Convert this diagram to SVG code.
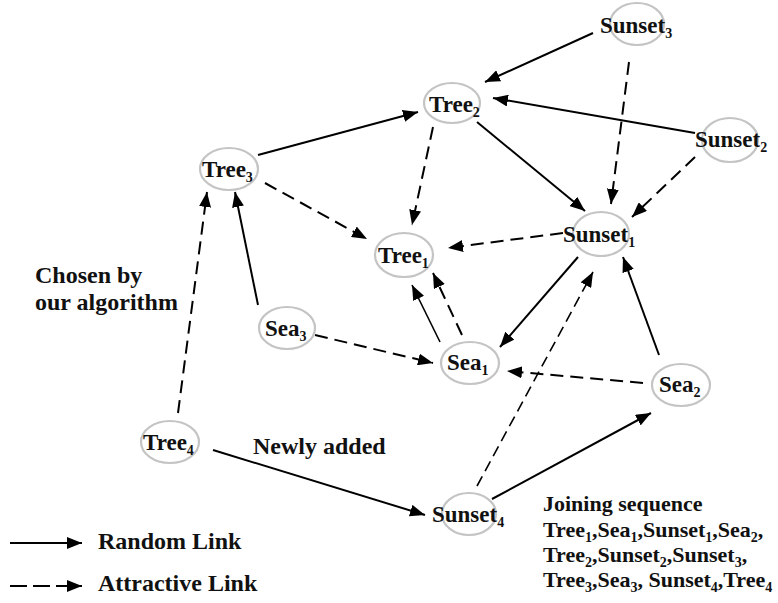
<svg xmlns="http://www.w3.org/2000/svg" width="778" height="603" viewBox="0 0 778 603">
<style>
.bg{fill:#ffffff}
.node ellipse{fill:none;stroke:#c4c4c4;stroke-width:2.2}
text{font-family:"Liberation Serif","Times New Roman",serif;font-weight:bold;fill:#111}
.lbl{font-size:23px}
.ann{font-size:24px}
.seq{font-size:22px}
.sub{font-size:14px}
.solid{stroke:#000;stroke-width:2;fill:none;marker-end:url(#ah)}
.dash{stroke:#000;stroke-width:2;fill:none;stroke-dasharray:13 7;marker-end:url(#ah)}
.dashthin{stroke:#000;stroke-width:1.6;fill:none;stroke-dasharray:11 6;marker-end:url(#ah)}
</style>
<defs>
<marker id="ah" viewBox="0 0 15 12" refX="15" refY="6" markerWidth="15" markerHeight="12" markerUnits="userSpaceOnUse" orient="auto">
<path d="M0,0 L15,6 L0,12 z" fill="#000" stroke="none"/>
</marker>
</defs>
<rect class="bg" x="0" y="0" width="778" height="603"/>

<g id="connectors">
<line class="solid" x1="593" y1="33" x2="485" y2="82"/>
<line class="dash" x1="629" y1="62" x2="611" y2="204"/>
<line class="solid" x1="695" y1="133" x2="493" y2="98"/>
<line class="dash" x1="695" y1="157" x2="632" y2="217"/>
<line class="solid" x1="477" y1="122" x2="585" y2="211"/>
<line class="dash" x1="433" y1="127" x2="412" y2="225"/>
<line class="solid" x1="258" y1="155" x2="418" y2="112"/>
<line class="dash" x1="265" y1="183" x2="367" y2="239"/>
<line class="dash" x1="563" y1="233" x2="448" y2="248"/>
<line class="solid" x1="578" y1="257" x2="500" y2="347"/>
<line class="solid" x1="659" y1="355" x2="623" y2="257"/>
<line class="dash" x1="643" y1="383" x2="507" y2="371"/>
<line class="dashthin" x1="477" y1="486" x2="593" y2="272"/>
<line class="solid" style="stroke-width:1.6" x1="440" y1="342" x2="412" y2="285"/>
<line class="dash" x1="462" y1="335" x2="433" y2="273"/>
<line class="dash" x1="315" y1="335" x2="433" y2="363"/>
<line class="solid" x1="258" y1="305" x2="235" y2="192"/>
<line class="dash" x1="178" y1="413" x2="207" y2="192"/>
<line class="solid" x1="213" y1="450" x2="425" y2="515"/>
<line class="solid" x1="492" y1="499" x2="651" y2="413"/>
</g>

<g id="Sunset3" class="node"><ellipse cx="637" cy="24" rx="27" ry="21"/><text class="lbl" x="600" y="33">Sunset<tspan class="sub" dy="5">3</tspan></text></g>
<g id="Tree2" class="node"><ellipse cx="452" cy="103" rx="28" ry="20"/><text class="lbl" x="429" y="112">Tree<tspan class="sub" dy="5">2</tspan></text></g>
<g id="Sunset2" class="node"><ellipse cx="730" cy="140" rx="28" ry="22"/><text class="lbl" x="695" y="147">Sunset<tspan class="sub" dy="5">2</tspan></text></g>
<g id="Tree3" class="node"><ellipse cx="229" cy="169" rx="29" ry="21"/><text class="lbl" x="202" y="177">Tree<tspan class="sub" dy="5">3</tspan></text></g>
<g id="Tree1" class="node"><ellipse cx="404" cy="255" rx="29" ry="22"/><text class="lbl" x="378" y="263">Tree<tspan class="sub" dy="5">1</tspan></text></g>
<g id="Sunset1" class="node"><ellipse cx="601" cy="234" rx="28" ry="22"/><text class="lbl" x="563" y="242">Sunset<tspan class="sub" dy="5">1</tspan></text></g>
<g id="Sea1" class="node"><ellipse cx="470" cy="363" rx="29" ry="21"/><text class="lbl" x="447" y="370">Sea<tspan class="sub" dy="5">1</tspan></text></g>
<g id="Sea2" class="node"><ellipse cx="681" cy="385" rx="29" ry="21"/><text class="lbl" x="659" y="392">Sea<tspan class="sub" dy="5">2</tspan></text></g>
<g id="Sea3" class="node"><ellipse cx="287" cy="328" rx="28" ry="21"/><text class="lbl" x="265" y="336">Sea<tspan class="sub" dy="5">3</tspan></text></g>
<g id="Tree4" class="node"><ellipse cx="170" cy="442" rx="29" ry="21"/><text class="lbl" x="143" y="450">Tree<tspan class="sub" dy="5">4</tspan></text></g>
<g id="Sunset4" class="node"><ellipse cx="469" cy="514" rx="27" ry="21"/><text class="lbl" x="432" y="522">Sunset<tspan class="sub" dy="5">4</tspan></text></g>

<g id="annotations">
<text class="ann" x="35" y="283">Chosen by</text>
<text class="ann" x="35" y="310">our algorithm</text>
<text class="ann" x="253" y="454">Newly added</text>
<text class="seq" x="543" y="511">Joining sequence</text>
<text class="seq" x="543" y="537">Tree<tspan class="sub" dy="5">1</tspan><tspan dy="-5">,Sea</tspan><tspan class="sub" dy="5">1</tspan><tspan dy="-5">,Sunset</tspan><tspan class="sub" dy="5">1</tspan><tspan dy="-5">,Sea</tspan><tspan class="sub" dy="5">2</tspan><tspan dy="-5">,</tspan></text>
<text class="seq" x="543" y="562">Tree<tspan class="sub" dy="5">2</tspan><tspan dy="-5">,Sunset</tspan><tspan class="sub" dy="5">2</tspan><tspan dy="-5">,Sunset</tspan><tspan class="sub" dy="5">3</tspan><tspan dy="-5">,</tspan></text>
<text class="seq" x="543" y="587">Tree<tspan class="sub" dy="5">3</tspan><tspan dy="-5">,Sea</tspan><tspan class="sub" dy="5">3</tspan><tspan dy="-5">, Sunset</tspan><tspan class="sub" dy="5">4</tspan><tspan dy="-5">,Tree</tspan><tspan class="sub" dy="5">4</tspan></text>
</g>

<g id="legend">
<line class="solid" x1="10" y1="543" x2="82" y2="543"/>
<line class="solid" style="stroke-dasharray:17 6" x1="10" y1="586" x2="82" y2="586"/>
<text class="ann" x="98" y="549">Random Link</text>
<text class="ann" x="98" y="591">Attractive Link</text>
</g>
</svg>
